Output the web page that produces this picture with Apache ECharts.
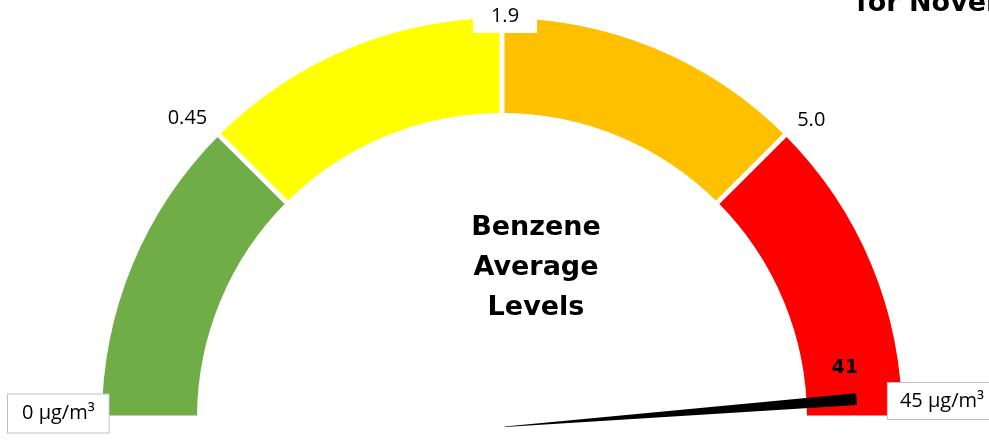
<!DOCTYPE html>
<html>
<head>
<meta charset="utf-8">
<script src="https://cdn.jsdelivr.net/npm/echarts@6/dist/echarts.min.js"></script>
<style>
html,body{margin:0;padding:0;background:#fff;}
#chart{width:989px;height:441px;}
</style>
</head>
<body>
<div id="chart"></div>
<script>
// ---- data ----
const breakpoints = [0, 0.45, 1.9, 5.0, 45];
const tickLabels = ['0 µg/m³', '0.45', '1.9', '5.0', '45 µg/m³'];
const measuredValue = 41;
const gaugeName = 'Benzene\nAverage\nLevels';
const headerText = 'for November';

// map a concentration onto the equal-width band scale (each band = 1 unit)
function toBandScale(v) {
  for (let i = 0; i < breakpoints.length - 1; i++) {
    if (v <= breakpoints[i + 1]) {
      return i + (v - breakpoints[i]) / (breakpoints[i + 1] - breakpoints[i]);
    }
  }
  return breakpoints.length - 1;
}

const FONT = 'Open Sans';
// rich layouts per tick (spacer tokens nudge each label to its place)
const labelFormats = [
  t => '{b0|' + t + '}\n{s0|}',
  t => '{s1|}\n{h1|}{t|' + t + '}',
  t => '{s2|}\n{h2|}{b2|' + t + '}',
  t => '{s3|}\n{t|' + t + '}{h3|}',
  t => '{b4|' + t + '}\n{s4|}'
];

const chart = echarts.init(document.getElementById('chart'));
chart.setOption({
  animation: false,
  backgroundColor: '#fff',
  title: {
    text: headerText,
    left: 851, top: -16,
    textStyle: { fontFamily: 'DejaVu Sans', fontWeight: 'bold', fontSize: 27, lineHeight: 30, color: '#000' }
  },
  series: [{
    type: 'gauge',
    center: [502, 418],
    radius: 400,
    startAngle: 180,
    endAngle: 0,
    min: 0,
    max: breakpoints.length - 1,
    splitNumber: breakpoints.length - 1,
    axisLine: {
      lineStyle: {
        width: 95,
        color: [[0.25, '#70AD47'], [0.5, '#FFFF00'], [0.75, '#FFC000'], [1, '#FF0000']]
      }
    },
    splitLine: { show: true, length: 95, distance: -95, lineStyle: { color: '#fff', width: 5 } },
    axisTick: { show: false },
    axisLabel: {
      show: true,
      distance: -94,
      color: '#000',
      fontFamily: FONT,
      fontSize: 20,
      formatter: function (v) {
        const i = Math.round(v);
        return labelFormats[i](tickLabels[i]);
      },
      rich: {
        t: { fontFamily: FONT, fontSize: 20, color: '#000', lineHeight: 24 },
        b0: { fontFamily: FONT, fontSize: 20, color: '#000', lineHeight: 24, padding: [9, 14], backgroundColor: '#fff', borderColor: '#BFBFBF', borderWidth: 1 },
        b2: { fontFamily: FONT, fontSize: 20, color: '#000', lineHeight: 24, padding: [7, 18], backgroundColor: '#fff' },
        b4: { fontFamily: FONT, fontSize: 20, color: '#000', lineHeight: 24, padding: [8, 12], backgroundColor: '#fff', borderColor: '#BFBFBF', borderWidth: 1 },
        s0: { width: 1, height: 9, fontSize: 1, lineHeight: 9 },
        s1: { width: 1, height: 99, fontSize: 1, lineHeight: 99 },
        h1: { width: 15, height: 1, fontSize: 1 },
        s2: { width: 1, height: 80, fontSize: 1, lineHeight: 80 },
        h2: { width: 6, height: 1, fontSize: 1 },
        s3: { width: 1, height: 104, fontSize: 1, lineHeight: 104 },
        h3: { width: 26, height: 1, fontSize: 1 },
        s4: { width: 1, height: 34, fontSize: 1, lineHeight: 34 }
      }
    },
    pointer: {
      show: true,
      icon: 'path://M0,0L12,0L6.3,100L5.7,100Z',
      length: 353,
      width: 12,
      offsetCenter: [9, -2],
      itemStyle: { color: '#000' }
    },
    anchor: { show: false },
    title: {
      show: true,
      offsetCenter: [34, -150],
      fontFamily: 'DejaVu Sans',
      fontWeight: 'bold',
      fontSize: 27,
      lineHeight: 40,
      color: '#000'
    },
    detail: {
      show: true,
      offsetCenter: [343, -50],
      fontFamily: 'DejaVu Sans',
      fontWeight: 'bold',
      fontSize: 19,
      color: '#000',
      formatter: function () { return String(measuredValue); }
    },
    data: [{ value: toBandScale(measuredValue), name: gaugeName }]
  }]
});
</script>
</body>
</html>
